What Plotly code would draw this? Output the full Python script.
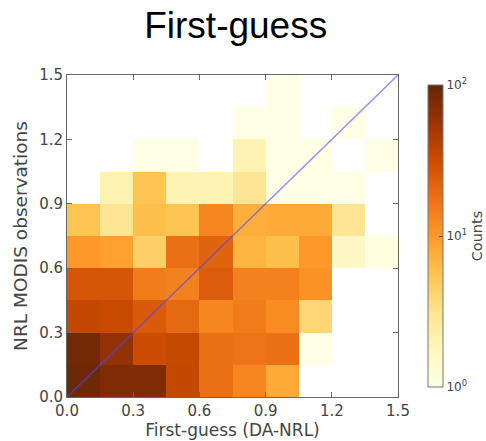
import numpy as np
import plotly.graph_objects as go

# 2D histogram of first-guess vs observed AOD, 10 x 10 bins over [0, 1.5]
bin_edges = np.linspace(0.0, 1.5, 11)
tick_values = [0.0, 0.3, 0.6, 0.9, 1.2, 1.5]
tick_labels = ["0.0", "0.3", "0.6", "0.9", "1.2", "1.5"]

# counts per bin; rows go bottom (obs 0-0.15) to top, columns left to right
counts = [
    [90, 75, 75, 35, 18, 13, 8, 0, 0, 0],
    [85, 60, 32, 34, 18, 17, 18, 1, 0, 0],
    [35, 33, 25, 20, 13, 15, 12, 4, 0, 0],
    [27, 27, 15, 14, 24, 14, 14, 11, 0, 0],
    [10, 9, 4.5, 18, 22, 7, 6, 10, 1.6, 1.1],
    [5.5, 3, 6, 5.5, 13, 7.5, 8, 8, 3, 0],
    [0, 2, 5.5, 2, 2, 3, 1, 1, 1, 0],
    [0, 0, 1, 1, 0, 2, 1, 1, 0, 1],
    [0, 0, 0, 0, 0, 1, 1, 0, 1, 0],
    [0, 0, 0, 0, 0, 0, 1, 0, 0, 0],
]
cbar_ticks = [0, 1, 2]
cbar_labels = ["10<sup>0</sup>", "10<sup>1</sup>", "10<sup>2</sup>"]

centers = (bin_edges[:-1] + bin_edges[1:]) / 2
arr = np.array(counts, dtype=float)
logz = np.where(arr > 0, np.log10(np.where(arr > 0, arr, 1)), np.nan)
z = [[None if np.isnan(v) else float(v) for v in row] for row in logz]

tick_font = dict(family="DejaVu Sans", size=15, color="#444")

fig = go.Figure()
fig.add_trace(go.Heatmap(
    x=centers, y=centers, z=z,
    zmin=0, zmax=2,
    colorscale="YlOrBr",
    hoverongaps=False,
    colorbar=dict(
        x=1.06, xanchor="left", y=0.5, yanchor="middle",
        len=1.0, lenmode="fraction", thickness=15,
        outlinewidth=1, outlinecolor="#777",
        tickvals=cbar_ticks, ticktext=cbar_labels,
        ticks="inside", ticklen=4, tickcolor="#555",
        tickfont=dict(family="DejaVu Sans", size=12, color="#444"),
        title=dict(text="Counts", side="right",
                   font=dict(family="DejaVu Sans", size=14.5, color="#444")),
    ),
))

# one-to-one reference line
fig.add_trace(go.Scatter(
    x=[bin_edges[0], bin_edges[-1]], y=[bin_edges[0], bin_edges[-1]],
    mode="lines", line=dict(color="rgba(70,70,255,0.6)", width=1.5),
    showlegend=False, hoverinfo="skip",
))

axis_common = dict(
    range=[0, 1.5], tickvals=tick_values, ticktext=tick_labels,
    showgrid=False, zeroline=False,
    showline=True, linecolor="#666", linewidth=1, mirror="ticks",
    ticks="inside", ticklen=5, tickcolor="#666",
    tickfont=tick_font,
)

fig.update_layout(
    width=486, height=441,
    margin=dict(l=67, r=88, t=75, b=44, autoexpand=False),
    plot_bgcolor="white", paper_bgcolor="white",
    title=dict(text="First-guess", x=0.485, xanchor="center", y=0.943, yanchor="middle",
               font=dict(family="Liberation Sans, Arial", size=37, color="black")),
    xaxis=dict(axis_common, title=dict(text="First-guess (DA-NRL)", standoff=0,
               font=dict(family="DejaVu Sans", size=17, color="#444"))),
    yaxis=dict(axis_common, title=dict(text="NRL MODIS observations", standoff=6,
               font=dict(family="DejaVu Sans", size=18.5, color="#444"))),
    showlegend=False,
)

fig.write_html("out.html")
